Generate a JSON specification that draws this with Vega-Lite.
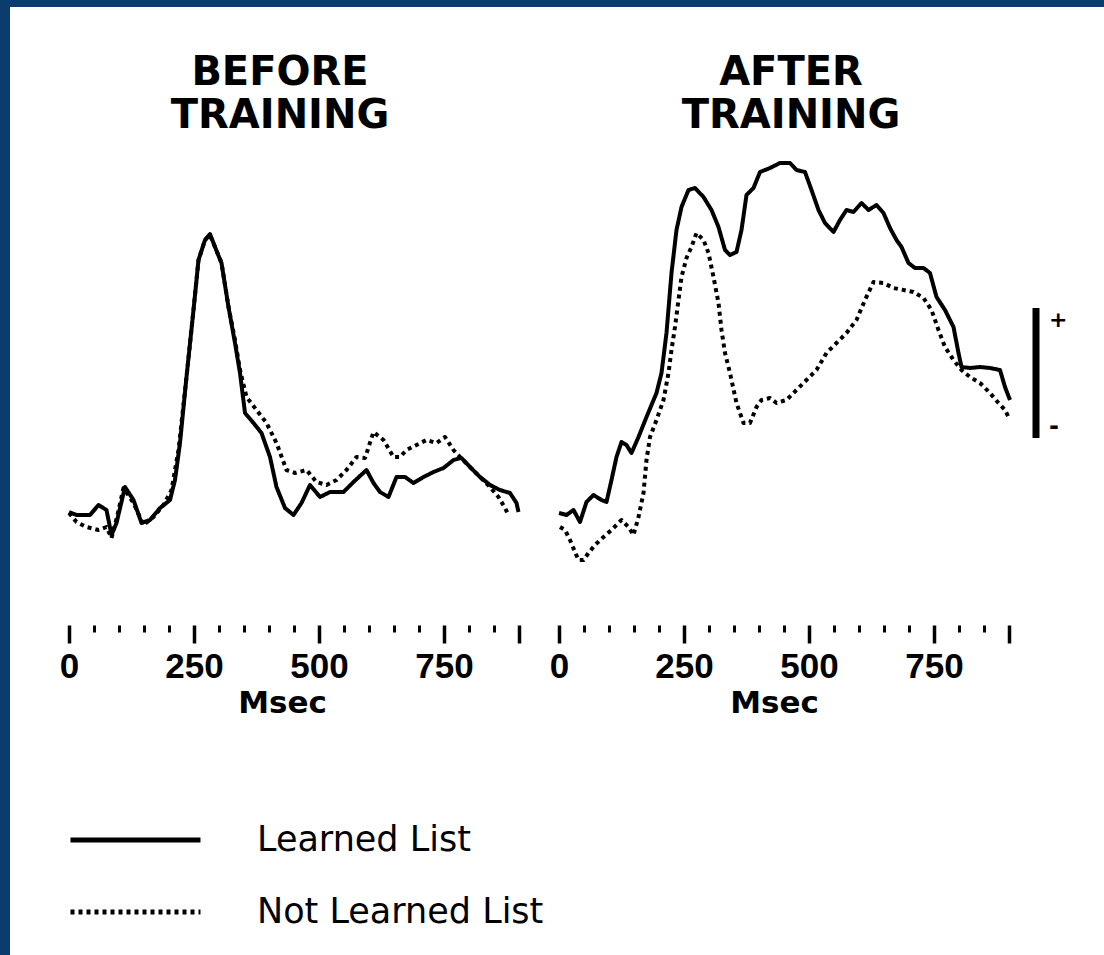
{
  "$schema": "https://vega.github.io/schema/vega-lite/v6.json",
  "width": 1094,
  "height": 948,
  "autosize": {"type": "none"},
  "padding": {"left": 10, "top": 7, "right": 0, "bottom": 0},
  "background": "#0a3d6e",
  "config": {
    "view": {"fill": "white", "stroke": null},
    "legend": {
      "symbolType": "stroke",
      "symbolSize": 16900,
      "symbolStrokeWidth": 5,
      "symbolStrokeColor": "black",
      "clipHeight": 36,
      "rowPadding": 36,
      "labelOffset": 54,
      "labelFont": "DejaVu Sans",
      "labelFontSize": 35,
      "labelColor": "black",
      "labelLimit": 500,
      "padding": 0
    }
  },
  "datasets": {
    "before": [
      {"ms":0,"v":0.8,"list":"Learned List"},{"ms":15,"v":0.5,"list":"Learned List"},{"ms":42,"v":0.5,"list":"Learned List"},{"ms":59,"v":1.5,"list":"Learned List"},{"ms":75,"v":1.0,"list":"Learned List"},{"ms":85,"v":-1.5,"list":"Learned List"},{"ms":95,"v":-0.3,"list":"Learned List"},{"ms":112,"v":3.3,"list":"Learned List"},{"ms":129,"v":2.0,"list":"Learned List"},{"ms":145,"v":-0.3,"list":"Learned List"},{"ms":162,"v":0.0,"list":"Learned List"},{"ms":182,"v":1.2,"list":"Learned List"},{"ms":202,"v":2.0,"list":"Learned List"},{"ms":212,"v":4.0,"list":"Learned List"},{"ms":222,"v":7.7,"list":"Learned List"},{"ms":235,"v":14.3,"list":"Learned List"},{"ms":249,"v":21.0,"list":"Learned List"},{"ms":259,"v":26.0,"list":"Learned List"},{"ms":272,"v":28.0,"list":"Learned List"},{"ms":282,"v":28.6,"list":"Learned List"},{"ms":292,"v":27.3,"list":"Learned List"},{"ms":305,"v":25.7,"list":"Learned List"},{"ms":319,"v":21.3,"list":"Learned List"},{"ms":332,"v":17.7,"list":"Learned List"},{"ms":342,"v":14.7,"list":"Learned List"},{"ms":352,"v":10.7,"list":"Learned List"},{"ms":369,"v":9.7,"list":"Learned List"},{"ms":385,"v":8.7,"list":"Learned List"},{"ms":402,"v":6.3,"list":"Learned List"},{"ms":415,"v":3.3,"list":"Learned List"},{"ms":432,"v":1.2,"list":"Learned List"},{"ms":449,"v":0.5,"list":"Learned List"},{"ms":465,"v":1.7,"list":"Learned List"},{"ms":482,"v":3.5,"list":"Learned List"},{"ms":502,"v":2.3,"list":"Learned List"},{"ms":522,"v":2.8,"list":"Learned List"},{"ms":549,"v":2.8,"list":"Learned List"},{"ms":569,"v":3.8,"list":"Learned List"},{"ms":595,"v":5.0,"list":"Learned List"},{"ms":609,"v":3.7,"list":"Learned List"},{"ms":622,"v":2.8,"list":"Learned List"},{"ms":639,"v":2.3,"list":"Learned List"},{"ms":655,"v":4.3,"list":"Learned List"},{"ms":672,"v":4.3,"list":"Learned List"},{"ms":689,"v":3.7,"list":"Learned List"},{"ms":709,"v":4.3,"list":"Learned List"},{"ms":729,"v":4.8,"list":"Learned List"},{"ms":749,"v":5.2,"list":"Learned List"},{"ms":769,"v":6.0,"list":"Learned List"},{"ms":785,"v":6.2,"list":"Learned List"},{"ms":802,"v":5.3,"list":"Learned List"},{"ms":822,"v":4.3,"list":"Learned List"},{"ms":842,"v":3.5,"list":"Learned List"},{"ms":862,"v":3.0,"list":"Learned List"},{"ms":882,"v":2.7,"list":"Learned List"},{"ms":895,"v":1.7,"list":"Learned List"},{"ms":899,"v":0.8,"list":"Learned List"},
      {"ms":0,"v":0.7,"list":"Not Learned List"},{"ms":15,"v":-0.2,"list":"Not Learned List"},{"ms":35,"v":-0.7,"list":"Not Learned List"},{"ms":59,"v":-1.0,"list":"Not Learned List"},{"ms":75,"v":-0.7,"list":"Not Learned List"},{"ms":85,"v":-1.8,"list":"Not Learned List"},{"ms":97,"v":0.5,"list":"Not Learned List"},{"ms":109,"v":3.2,"list":"Not Learned List"},{"ms":129,"v":1.7,"list":"Not Learned List"},{"ms":149,"v":-0.5,"list":"Not Learned List"},{"ms":169,"v":0.3,"list":"Not Learned List"},{"ms":189,"v":1.5,"list":"Not Learned List"},{"ms":205,"v":3.0,"list":"Not Learned List"},{"ms":219,"v":7.0,"list":"Not Learned List"},{"ms":235,"v":14.3,"list":"Not Learned List"},{"ms":249,"v":21.0,"list":"Not Learned List"},{"ms":259,"v":26.0,"list":"Not Learned List"},{"ms":272,"v":28.0,"list":"Not Learned List"},{"ms":282,"v":28.5,"list":"Not Learned List"},{"ms":292,"v":27.3,"list":"Not Learned List"},{"ms":305,"v":25.7,"list":"Not Learned List"},{"ms":319,"v":21.3,"list":"Not Learned List"},{"ms":332,"v":18.0,"list":"Not Learned List"},{"ms":342,"v":15.0,"list":"Not Learned List"},{"ms":355,"v":12.3,"list":"Not Learned List"},{"ms":375,"v":11.0,"list":"Not Learned List"},{"ms":395,"v":9.7,"list":"Not Learned List"},{"ms":415,"v":7.7,"list":"Not Learned List"},{"ms":435,"v":5.0,"list":"Not Learned List"},{"ms":452,"v":4.7,"list":"Not Learned List"},{"ms":475,"v":5.0,"list":"Not Learned List"},{"ms":495,"v":3.8,"list":"Not Learned List"},{"ms":515,"v":3.5,"list":"Not Learned List"},{"ms":535,"v":4.0,"list":"Not Learned List"},{"ms":555,"v":5.0,"list":"Not Learned List"},{"ms":575,"v":6.3,"list":"Not Learned List"},{"ms":592,"v":6.2,"list":"Not Learned List"},{"ms":609,"v":8.8,"list":"Not Learned List"},{"ms":629,"v":8.0,"list":"Not Learned List"},{"ms":649,"v":6.3,"list":"Not Learned List"},{"ms":662,"v":6.3,"list":"Not Learned List"},{"ms":675,"v":7.0,"list":"Not Learned List"},{"ms":695,"v":7.5,"list":"Not Learned List"},{"ms":715,"v":8.0,"list":"Not Learned List"},{"ms":735,"v":7.7,"list":"Not Learned List"},{"ms":752,"v":8.3,"list":"Not Learned List"},{"ms":769,"v":7.0,"list":"Not Learned List"},{"ms":782,"v":6.3,"list":"Not Learned List"},{"ms":802,"v":5.3,"list":"Not Learned List"},{"ms":822,"v":4.3,"list":"Not Learned List"},{"ms":842,"v":3.3,"list":"Not Learned List"},{"ms":859,"v":2.3,"list":"Not Learned List"},{"ms":872,"v":1.2,"list":"Not Learned List"},{"ms":879,"v":0.5,"list":"Not Learned List"}
    ],
    "after": [
      {"ms":0,"v":0.7,"list":"Learned List"},{"ms":15,"v":0.5,"list":"Learned List"},{"ms":29,"v":1.0,"list":"Learned List"},{"ms":42,"v":-0.2,"list":"Learned List"},{"ms":55,"v":1.8,"list":"Learned List"},{"ms":69,"v":2.5,"list":"Learned List"},{"ms":85,"v":2.0,"list":"Learned List"},{"ms":95,"v":1.8,"list":"Learned List"},{"ms":105,"v":4.0,"list":"Learned List"},{"ms":115,"v":6.3,"list":"Learned List"},{"ms":125,"v":7.8,"list":"Learned List"},{"ms":135,"v":7.5,"list":"Learned List"},{"ms":145,"v":6.7,"list":"Learned List"},{"ms":159,"v":8.3,"list":"Learned List"},{"ms":175,"v":10.3,"list":"Learned List"},{"ms":195,"v":12.7,"list":"Learned List"},{"ms":205,"v":14.7,"list":"Learned List"},{"ms":215,"v":18.7,"list":"Learned List"},{"ms":225,"v":24.7,"list":"Learned List"},{"ms":235,"v":29.0,"list":"Learned List"},{"ms":245,"v":31.3,"list":"Learned List"},{"ms":259,"v":33.0,"list":"Learned List"},{"ms":272,"v":33.2,"list":"Learned List"},{"ms":289,"v":32.3,"list":"Learned List"},{"ms":305,"v":31.0,"list":"Learned List"},{"ms":319,"v":29.3,"list":"Learned List"},{"ms":332,"v":27.0,"list":"Learned List"},{"ms":342,"v":26.5,"list":"Learned List"},{"ms":355,"v":26.8,"list":"Learned List"},{"ms":365,"v":29.0,"list":"Learned List"},{"ms":375,"v":32.5,"list":"Learned List"},{"ms":389,"v":33.2,"list":"Learned List"},{"ms":402,"v":34.8,"list":"Learned List"},{"ms":422,"v":35.2,"list":"Learned List"},{"ms":442,"v":35.7,"list":"Learned List"},{"ms":462,"v":35.7,"list":"Learned List"},{"ms":475,"v":35.0,"list":"Learned List"},{"ms":492,"v":34.8,"list":"Learned List"},{"ms":505,"v":33.0,"list":"Learned List"},{"ms":519,"v":31.0,"list":"Learned List"},{"ms":532,"v":29.7,"list":"Learned List"},{"ms":549,"v":28.8,"list":"Learned List"},{"ms":562,"v":30.0,"list":"Learned List"},{"ms":575,"v":31.0,"list":"Learned List"},{"ms":589,"v":30.8,"list":"Learned List"},{"ms":605,"v":31.7,"list":"Learned List"},{"ms":619,"v":31.0,"list":"Learned List"},{"ms":635,"v":31.5,"list":"Learned List"},{"ms":649,"v":30.7,"list":"Learned List"},{"ms":662,"v":29.2,"list":"Learned List"},{"ms":675,"v":28.0,"list":"Learned List"},{"ms":685,"v":27.3,"list":"Learned List"},{"ms":699,"v":25.7,"list":"Learned List"},{"ms":712,"v":25.2,"list":"Learned List"},{"ms":729,"v":25.2,"list":"Learned List"},{"ms":742,"v":24.7,"list":"Learned List"},{"ms":755,"v":22.3,"list":"Learned List"},{"ms":772,"v":21.0,"list":"Learned List"},{"ms":789,"v":19.3,"list":"Learned List"},{"ms":799,"v":16.7,"list":"Learned List"},{"ms":805,"v":15.3,"list":"Learned List"},{"ms":822,"v":15.2,"list":"Learned List"},{"ms":842,"v":15.3,"list":"Learned List"},{"ms":862,"v":15.2,"list":"Learned List"},{"ms":882,"v":15.0,"list":"Learned List"},{"ms":892,"v":13.3,"list":"Learned List"},{"ms":902,"v":12.0,"list":"Learned List"},
      {"ms":2,"v":-0.7,"list":"Not Learned List"},{"ms":12,"v":-1.0,"list":"Not Learned List"},{"ms":22,"v":-2.0,"list":"Not Learned List"},{"ms":32,"v":-3.2,"list":"Not Learned List"},{"ms":39,"v":-4.0,"list":"Not Learned List"},{"ms":49,"v":-4.0,"list":"Not Learned List"},{"ms":59,"v":-3.3,"list":"Not Learned List"},{"ms":72,"v":-2.5,"list":"Not Learned List"},{"ms":89,"v":-1.7,"list":"Not Learned List"},{"ms":105,"v":-1.0,"list":"Not Learned List"},{"ms":125,"v":0.0,"list":"Not Learned List"},{"ms":139,"v":-0.7,"list":"Not Learned List"},{"ms":149,"v":-1.5,"list":"Not Learned List"},{"ms":159,"v":0.3,"list":"Not Learned List"},{"ms":169,"v":2.7,"list":"Not Learned List"},{"ms":175,"v":6.0,"list":"Not Learned List"},{"ms":182,"v":8.3,"list":"Not Learned List"},{"ms":195,"v":10.0,"list":"Not Learned List"},{"ms":209,"v":12.0,"list":"Not Learned List"},{"ms":219,"v":14.7,"list":"Not Learned List"},{"ms":225,"v":17.0,"list":"Not Learned List"},{"ms":232,"v":19.3,"list":"Not Learned List"},{"ms":239,"v":22.0,"list":"Not Learned List"},{"ms":245,"v":24.3,"list":"Not Learned List"},{"ms":255,"v":26.2,"list":"Not Learned List"},{"ms":265,"v":27.3,"list":"Not Learned List"},{"ms":275,"v":28.7,"list":"Not Learned List"},{"ms":289,"v":28.0,"list":"Not Learned List"},{"ms":299,"v":26.7,"list":"Not Learned List"},{"ms":309,"v":24.3,"list":"Not Learned List"},{"ms":319,"v":21.7,"list":"Not Learned List"},{"ms":325,"v":19.0,"list":"Not Learned List"},{"ms":332,"v":16.7,"list":"Not Learned List"},{"ms":342,"v":14.7,"list":"Not Learned List"},{"ms":355,"v":11.7,"list":"Not Learned List"},{"ms":369,"v":9.7,"list":"Not Learned List"},{"ms":382,"v":9.7,"list":"Not Learned List"},{"ms":395,"v":11.3,"list":"Not Learned List"},{"ms":405,"v":12.0,"list":"Not Learned List"},{"ms":422,"v":12.2,"list":"Not Learned List"},{"ms":435,"v":11.7,"list":"Not Learned List"},{"ms":455,"v":12.0,"list":"Not Learned List"},{"ms":475,"v":13.0,"list":"Not Learned List"},{"ms":495,"v":14.0,"list":"Not Learned List"},{"ms":515,"v":15.0,"list":"Not Learned List"},{"ms":535,"v":16.7,"list":"Not Learned List"},{"ms":555,"v":17.7,"list":"Not Learned List"},{"ms":575,"v":18.7,"list":"Not Learned List"},{"ms":595,"v":20.0,"list":"Not Learned List"},{"ms":612,"v":22.0,"list":"Not Learned List"},{"ms":629,"v":23.8,"list":"Not Learned List"},{"ms":649,"v":23.7,"list":"Not Learned List"},{"ms":669,"v":23.2,"list":"Not Learned List"},{"ms":689,"v":23.0,"list":"Not Learned List"},{"ms":709,"v":22.8,"list":"Not Learned List"},{"ms":729,"v":22.2,"list":"Not Learned List"},{"ms":745,"v":21.0,"list":"Not Learned List"},{"ms":759,"v":19.0,"list":"Not Learned List"},{"ms":772,"v":17.3,"list":"Not Learned List"},{"ms":789,"v":16.0,"list":"Not Learned List"},{"ms":805,"v":15.0,"list":"Not Learned List"},{"ms":822,"v":14.3,"list":"Not Learned List"},{"ms":842,"v":13.7,"list":"Not Learned List"},{"ms":862,"v":12.7,"list":"Not Learned List"},{"ms":879,"v":11.7,"list":"Not Learned List"},{"ms":892,"v":11.0,"list":"Not Learned List"},{"ms":899,"v":10.3,"list":"Not Learned List"}
    ]
  },
  "layer": [
    {
      "layer": [
        {
          "data": {"name": "before"},
          "mark": {"type": "line", "color": "black", "strokeWidth": 4, "strokeJoin": "round"},
          "encoding": {
            "x": {"field": "ms", "type": "quantitative", "scale": {"domain": [-118, 2070], "nice": false, "zero": false},
              "axis": {"orient": "bottom", "offset": -330, "values": [50,100,150,200,300,350,400,450,550,600,650,700,800,850], "tickSize": 7, "tickWidth": 3, "tickColor": "black", "domain": false, "grid": false, "labels": false, "title": null}},
            "y": {"field": "v", "type": "quantitative", "scale": {"domain": [-43.5, 51.3], "nice": false, "zero": false}, "axis": null},
            "strokeDash": {"field": "list", "type": "nominal",
              "scale": {"domain": ["Learned List", "Not Learned List"], "range": [[1, 0], [4, 4]]},
              "legend": {"orient": "none", "legendX": 58, "legendY": 815, "title": null,
                "encode": {"symbols": {"update": {"strokeDash": {"signal": "datum.value === 'Not Learned List' ? [7, 4] : [1, 0]"}}}}}}
          }
        },
        {
          "data": {"values": [{}]},
          "mark": {"type": "text", "text": ["BEFORE", "TRAINING"], "font": "DejaVu Sans", "fontWeight": "bold", "fontSize": 40, "lineHeight": 43, "baseline": "alphabetic", "align": "center", "color": "black"},
          "encoding": {
            "x": {"datum": 422, "type": "quantitative", "scale": {"domain": [-118, 2070], "nice": false, "zero": false},
              "axis": {"orient": "bottom", "offset": -330, "values": [0, 250, 500, 750, 900], "tickSize": 18, "tickWidth": 3.5, "tickColor": "black", "domain": false, "grid": false,
                "labelExpr": "datum.value == 900 ? '' : datum.label", "labelFont": "Liberation Sans", "labelFontWeight": "bold", "labelFontSize": 35, "labelColor": "black", "labelBaseline": "alphabetic", "labelPadding": 34, "labelFlush": false, "labelOverlap": false,
                "title": "Msec", "titleFont": "DejaVu Sans", "titleFontWeight": "bold", "titleFontSize": 31, "titleColor": "black", "titleX": 272, "titleY": 87, "titleBaseline": "alphabetic", "titleAlign": "center"}},
            "y": {"datum": 43.5, "type": "quantitative"}
          }
        }
      ],
      "resolve": {"axis": {"x": "independent"}}
    },
    {
      "layer": [
        {
          "data": {"name": "after"},
          "mark": {"type": "line", "color": "black", "strokeWidth": 4, "strokeJoin": "round"},
          "encoding": {
            "x": {"field": "ms", "type": "quantitative", "scale": {"domain": [-1098, 1090], "nice": false, "zero": false},
              "axis": {"orient": "bottom", "offset": -330, "values": [50,100,150,200,300,350,400,450,550,600,650,700,800,850], "tickSize": 7, "tickWidth": 3, "tickColor": "black", "domain": false, "grid": false, "labels": false, "title": null}},
            "y": {"field": "v", "type": "quantitative", "axis": null},
            "strokeDash": {"field": "list", "type": "nominal",
              "scale": {"domain": ["Learned List", "Not Learned List"], "range": [[1, 0], [4, 4]]},
              "legend": {"orient": "none", "legendX": 58, "legendY": 815, "title": null,
                "encode": {"symbols": {"update": {"strokeDash": {"signal": "datum.value === 'Not Learned List' ? [7, 4] : [1, 0]"}}}}}}
          }
        },
        {
          "data": {"values": [{}]},
          "mark": {"type": "text", "text": ["AFTER", "TRAINING"], "font": "DejaVu Sans", "fontWeight": "bold", "fontSize": 40, "lineHeight": 43, "baseline": "alphabetic", "align": "center", "color": "black"},
          "encoding": {
            "x": {"datum": 464, "type": "quantitative",
              "axis": {"orient": "bottom", "offset": -330, "values": [0, 250, 500, 750, 900], "tickSize": 18, "tickWidth": 3.5, "tickColor": "black", "domain": false, "grid": false,
                "labelExpr": "datum.value == 900 ? '' : datum.label", "labelFont": "Liberation Sans", "labelFontWeight": "bold", "labelFontSize": 35, "labelColor": "black", "labelBaseline": "alphabetic", "labelPadding": 34, "labelFlush": false, "labelOverlap": false,
                "title": "Msec", "titleFont": "DejaVu Sans", "titleFontWeight": "bold", "titleFontSize": 31, "titleColor": "black", "titleX": 764, "titleY": 87, "titleBaseline": "alphabetic", "titleAlign": "center"}},
            "y": {"datum": 43.5, "type": "quantitative"}
          }
        },
        {
          "data": {"values": [{}]},
          "mark": {"type": "rule", "color": "black", "strokeWidth": 7},
          "encoding": {
            "x": {"datum": 954, "type": "quantitative", "axis": null},
            "y": {"datum": 21.2, "type": "quantitative"},
            "y2": {"datum": 8.2}
          }
        },
        {
          "data": {"values": [{}]},
          "mark": {"type": "text", "text": "+", "font": "DejaVu Sans", "fontWeight": "bold", "fontSize": 22, "align": "left", "baseline": "middle", "color": "black"},
          "encoding": {
            "x": {"datum": 980, "type": "quantitative", "axis": null},
            "y": {"datum": 20.0, "type": "quantitative"}
          }
        },
        {
          "data": {"values": [{}]},
          "mark": {"type": "text", "text": "-", "font": "DejaVu Sans", "fontWeight": "bold", "fontSize": 24, "align": "left", "baseline": "middle", "color": "black"},
          "encoding": {
            "x": {"datum": 980, "type": "quantitative", "axis": null},
            "y": {"datum": 9.3, "type": "quantitative"}
          }
        }
      ],
      "resolve": {"axis": {"x": "independent"}}
    }
  ],
  "resolve": {"scale": {"x": "independent"}, "axis": {"x": "independent"}}
}
